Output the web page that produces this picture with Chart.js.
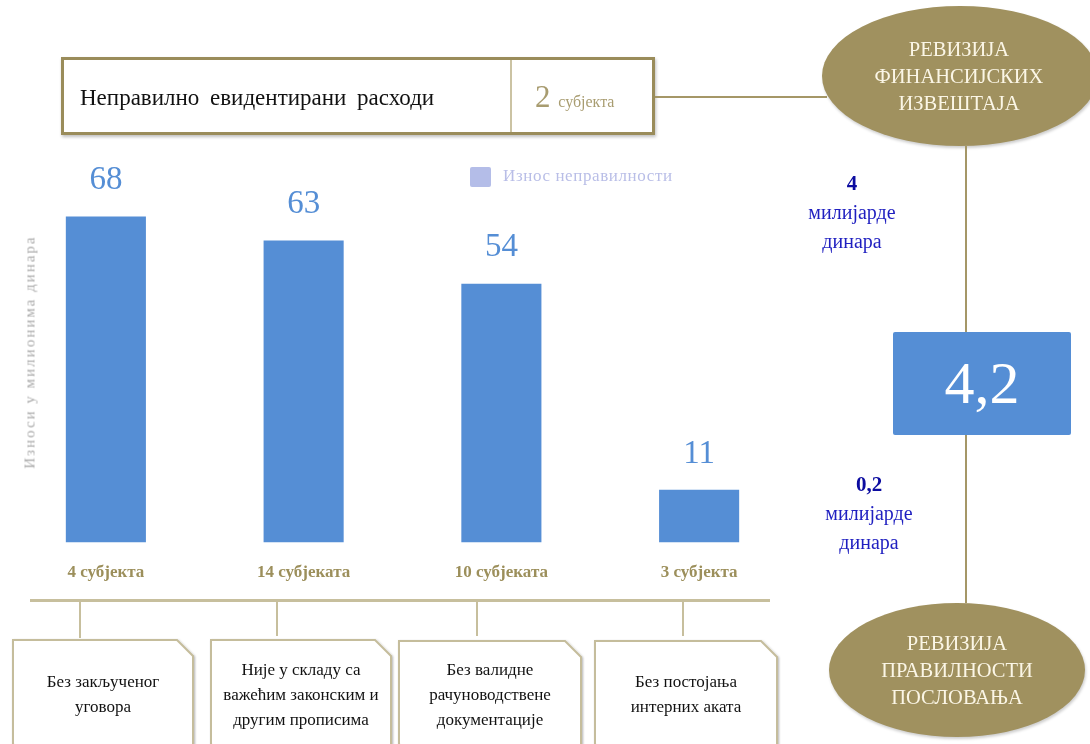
<!DOCTYPE html>
<html>
<head>
<meta charset="utf-8">
<script src="https://cdn.jsdelivr.net/npm/chart.js@4/dist/chart.umd.min.js"></script>
<style>
  html,body{margin:0;padding:0;background:#fff;}
  body{width:1090px;height:744px;position:relative;overflow:hidden;font-family:"Liberation Serif","DejaVu Serif",serif;}
  #wrap{position:absolute;left:0;top:0;width:1090px;height:744px;}
  .abs{position:absolute;}
  .topbox{left:61px;top:57px;width:588px;height:72px;border:3px solid #9a8c5a;box-shadow:1px 2px 3px rgba(0,0,0,0.25);background:transparent;}
  .ell{position:absolute;border-radius:50%;background:#a0915f;color:#fbf6e6;text-align:center;display:flex;align-items:center;justify-content:center;font-size:20.5px;line-height:27px;box-shadow:1px 2px 3px rgba(0,0,0,0.2);}
  .line{position:absolute;background:#a59767;}
  .tan{position:absolute;background:#c7bf9d;}
  .blue{color:#1f1fc0;text-align:center;font-size:20px;line-height:29px;}
  .bx{position:absolute;top:640px;width:182px;height:108px;display:flex;align-items:center;justify-content:center;text-align:center;font-size:17px;line-height:25px;color:#111;}
</style>
</head>
<body>
<div id="wrap"><canvas id="c" width="1090" height="744"></canvas></div>

<!-- top box -->
<div class="abs topbox"></div>
<div class="abs" style="left:510px;top:60px;width:2px;height:72px;background:#cbc3a3;"></div>
<div class="abs" style="left:80px;top:83px;font-size:23px;word-spacing:5px;color:#111;line-height:30px;">Неправилно евидентирани расходи</div>
<div class="abs" style="left:535px;top:80px;font-size:31px;color:#a89c70;line-height:34px;">2 <span style="font-size:16px;">субјекта</span></div>
<div class="line" style="left:655px;top:96px;width:172px;height:1.5px;"></div>

<!-- ellipses -->
<div class="ell" style="left:822px;top:6px;width:276px;height:140px;"><div style="margin-left:-2px;">РЕВИЗИЈА<br>ФИНАНСИЈСКИХ<br>ИЗВЕШТАЈА</div></div>
<div class="line" style="left:965px;top:146px;width:1.5px;height:187px;"></div>
<div class="line" style="left:965px;top:435px;width:1.5px;height:168px;"></div>
<div class="ell" style="left:829px;top:603px;width:256px;height:134px;">РЕВИЗИЈА<br>ПРАВИЛНОСТИ<br>ПОСЛОВАЊА</div>

<!-- right texts -->
<div class="abs blue" style="left:792px;top:169px;width:120px;"><b style="color:#0c0ca0;font-size:21px;">4</b><br>милијарде<br>динара</div>
<div class="abs blue" style="left:809px;top:470px;width:120px;"><b style="color:#0c0ca0;font-size:21px;">0,2</b><br>милијарде<br>динара</div>
<div class="abs" style="left:893px;top:332px;width:178px;height:103px;background:#558ed5;border-radius:2px;color:#fff;font-size:60px;display:flex;align-items:center;justify-content:center;">4,2</div>

<!-- legend and axis title -->
<div class="abs" style="left:470px;top:167px;width:21px;height:20px;background:#b4bde8;border-radius:2px;"></div>
<div class="abs" style="left:503px;top:165px;font-size:17px;letter-spacing:0.6px;color:#b9bee7;line-height:22px;">Износ неправилности</div>
<div class="abs" style="left:30px;top:352px;transform:translate(-50%,-50%) rotate(-90deg);white-space:nowrap;font-size:15px;font-weight:normal;letter-spacing:2px;color:#ababab;">Износи у милионима динара</div>

<!-- bottom tree -->
<div class="tan" style="left:30px;top:599px;width:740px;height:3px;"></div>
<div class="tan" style="left:79px;top:602px;width:1.5px;height:36px;"></div>
<div class="tan" style="left:276px;top:602px;width:1.5px;height:34px;"></div>
<div class="tan" style="left:476px;top:602px;width:1.5px;height:34px;"></div>
<div class="tan" style="left:682px;top:602px;width:1.5px;height:34px;"></div>
<svg class="abs" style="left:0;top:0;" width="1090" height="744">
  <defs><filter id="sh" x="-10%" y="-10%" width="130%" height="130%"><feDropShadow dx="1" dy="1" stdDeviation="1.2" flood-color="#000" flood-opacity="0.3"/></filter></defs>
  <g fill="#fff" stroke="#c5bd9c" stroke-width="2" filter="url(#sh)">
    <polygon points="13,640 177,640 193,656 193,760 29,760 13,744"/>
    <polygon points="211,640 375,640 391,656 391,760 227,760 211,744"/>
    <polygon points="399,641 565,641 581,657 581,760 415,760 399,744"/>
    <polygon points="595,641 761,641 777,657 777,760 611,760 595,744"/>
  </g>
</svg>
<div class="bx" style="left:12px;">Без закљученог<br>уговора</div>
<div class="bx" style="left:210px;">Није у складу са<br>важећим законским и<br>другим прописима</div>
<div class="bx" style="left:399px;">Без валидне<br>рачуноводствене<br>документације</div>
<div class="bx" style="left:595px;">Без постојања<br>интерних аката</div>

<script>
const categories = ["4 субјекта", "14 субјеката", "10 субјеката", "3 субјекта"];
const amounts = [68, 63, 54, 11];
const seriesName = "Износ неправилности";

const valueLabels = {
  id: 'valueLabels',
  afterDatasetsDraw(chart) {
    const ctx = chart.ctx;
    const meta = chart.getDatasetMeta(0);
    ctx.save();
    ctx.font = '33px "Liberation Serif", serif';
    ctx.fillStyle = '#558ed5';
    ctx.textAlign = 'center';
    ctx.textBaseline = 'middle';
    meta.data.forEach((bar, i) => {
      ctx.fillText(String(amounts[i]), bar.x, bar.y - 36);
    });
    ctx.restore();
  }
};

new Chart(document.getElementById('c'), {
  type: 'bar',
  data: {
    labels: categories,
    datasets: [{
      label: seriesName,
      data: amounts,
      backgroundColor: '#558ed5',
      borderWidth: 0,
      categoryPercentage: 1,
      barPercentage: 0.405
    }]
  },
  options: {
    responsive: false,
    animation: false,
    layout: { padding: { left: 7, right: 292, top: 159, bottom: 141 } },
    plugins: { legend: { display: false }, tooltip: { enabled: false } },
    scales: {
      y: { display: false, min: 0, max: 80 },
      x: {
        grid: { display: false, drawTicks: false },
        border: { display: false },
        ticks: {
          padding: 20,
          color: '#9c8f5b',
          font: { family: '"Liberation Serif", serif', size: 17, weight: 'bold' }
        }
      }
    }
  },
  plugins: [valueLabels]
});
</script>
</body>
</html>
